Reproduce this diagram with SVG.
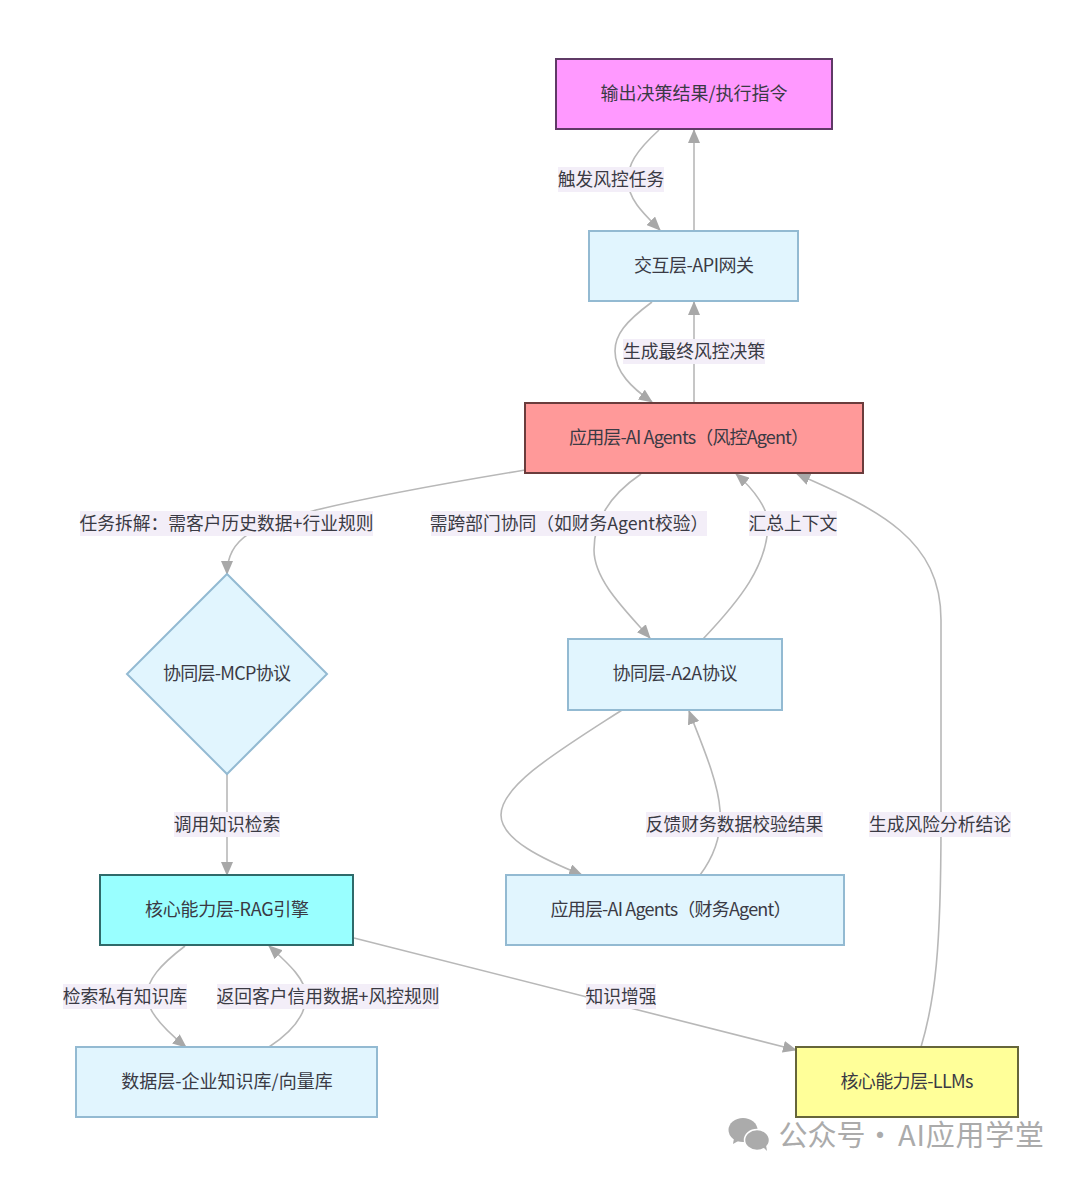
<svg xmlns="http://www.w3.org/2000/svg" width="1080" height="1179" viewBox="0 0 1080 1179">
<style>
text{font-family:"Noto Sans CJK SC","Noto Sans",sans-serif;font-size:18px;text-anchor:middle;dominant-baseline:central;fill:#3a3a44}
.n{fill:#e1f5fe;stroke:#93bad2;stroke-width:2}
.e{fill:none;stroke:#b8b8b8;stroke-width:1.600;marker-end:url(#a)}
.lb{fill:#f3eef8}
.l{font-size:17.750px}
.wm{font-size:29px;fill:#ababab}
</style>
<defs><marker id="a" markerUnits="userSpaceOnUse" viewBox="0 0 14 12" refX="13" refY="6" markerWidth="14" markerHeight="12" orient="auto"><path d="M0 0L14 6L0 12Z" fill="#a8a8a8"/></marker></defs>
<rect width="1080" height="1179" fill="#fff"/>
<g id="connectors">
<path class="e" d="M659 130C635 152 628 165 628 180C628 200 645 215 660 230"/>
<path class="e" d="M694 231V130"/>
<path class="e" d="M652 302C625 322 615 335 615 351C615 372 632 388 652 402"/>
<path class="e" d="M694 403V302"/>
<path class="e" d="M525 470C440 484 370 497 316 510C270 524 227 530 227 574"/>
<path class="e" d="M641 474C610 495 594 520 594 550C594 580 625 610 650 638"/>
<path class="e" d="M703 639C740 600 768 565 768 523C768 510 755 490 736 474"/>
<path class="e" d="M622 710C560 750 501 785 501 815C501 840 545 860 582 875"/>
<path class="e" d="M700 875C715 855 722 835 720 810C718 780 700 740 689 711"/>
<path class="e" d="M227 774V875"/>
<path class="e" d="M185 946C160 965 147 980 147 996C147 1012 165 1030 186 1047"/>
<path class="e" d="M269 1047C295 1030 306 1012 306 996C306 980 290 965 269 946"/>
<path class="e" d="M354 938L796 1050"/>
<path class="e" d="M921 1047C935 1000 941 950 941 824V620C941 540 880 510 797 474"/>
</g>
<g id="edge-labels">
<rect class="lb" x="558" y="167" width="106" height="25"/><text class="l" x="611" y="178">触发风控任务</text>
<rect class="lb" x="623" y="339" width="142" height="25"/><text class="l" x="694" y="350">生成最终风控决策</text>
<rect class="lb" x="80" y="511" width="293" height="25"/><text class="l" x="226.500" y="522">任务拆解：需客户历史数据+行业规则</text>
<rect class="lb" x="431" y="511" width="276" height="25"/><text class="l" x="569" y="522">需跨部门协同（如财务Agent校验）</text>
<rect class="lb" x="749" y="511" width="88" height="25"/><text class="l" x="793" y="522">汇总上下文</text>
<rect class="lb" x="646" y="812" width="177" height="25"/><text class="l" x="734.500" y="823">反馈财务数据校验结果</text>
<rect class="lb" x="869" y="812" width="142" height="25"/><text class="l" x="940" y="823">生成风险分析结论</text>
<rect class="lb" x="174" y="812" width="106" height="25"/><text class="l" x="227" y="823">调用知识检索</text>
<rect class="lb" x="63" y="984" width="124" height="25"/><text class="l" x="125" y="995">检索私有知识库</text>
<rect class="lb" x="217" y="984" width="222" height="25"/><text class="l" x="328" y="995">返回客户信用数据+风控规则</text>
<rect class="lb" x="586" y="984" width="70" height="25"/><text class="l" x="621" y="995">知识增强</text>
</g>
<g id="output"><rect x="556" y="59" width="276" height="70" fill="#ff99ff" stroke="#5f3a66" stroke-width="2"/><text x="694" y="92">输出决策结果/执行指令</text></g>
<g id="api"><rect class="n" x="589" y="231" width="209" height="70"/><text x="694" y="264" textLength="120">交互层-API网关</text></g>
<g id="risk-agent"><rect x="525" y="403" width="338" height="70" fill="#ff9999" stroke="#6a3c3c" stroke-width="2"/><text x="689" y="436" textLength="240">应用层-AI Agents（风控Agent）</text></g>
<g id="mcp"><path class="n" d="M227 574L327 674L227 774L127 674Z"/><text x="227" y="672" textLength="128">协同层-MCP协议</text></g>
<g id="a2a"><rect class="n" x="568" y="639" width="214" height="71"/><text x="675" y="672" textLength="125">协同层-A2A协议</text></g>
<g id="rag"><rect x="100" y="875" width="253" height="70" fill="#99ffff" stroke="#2f6a6a" stroke-width="2"/><text x="227" y="908" textLength="164">核心能力层-RAG引擎</text></g>
<g id="finance-agent"><rect class="n" x="506" y="875" width="338" height="70"/><text x="671" y="908" textLength="241">应用层-AI Agents（财务Agent）</text></g>
<g id="data"><rect class="n" x="76" y="1047" width="301" height="70"/><text x="227" y="1080">数据层-企业知识库/向量库</text></g>
<g id="llms"><rect x="796" y="1047" width="222" height="70" fill="#ffff99" stroke="#66663a" stroke-width="2"/><text x="907" y="1080" textLength="133">核心能力层-LLMs</text></g>
<g id="watermark">
<ellipse cx="743" cy="1130" rx="14.500" ry="12" fill="#ababab"/><path d="M734 1138l-1 6 7-4z" fill="#ababab"/>
<ellipse cx="757" cy="1140" rx="12.500" ry="10.500" fill="#ababab" stroke="#fff" stroke-width="1.500"/><path d="M763 1147l4 4-1-6z" fill="#ababab"/>
<text class="wm" x="822" y="1133">公众号</text><text class="wm" x="880" y="1133">·</text><text class="wm" x="971" y="1133" textLength="146">AI应用学堂</text>
</g>
</svg>
